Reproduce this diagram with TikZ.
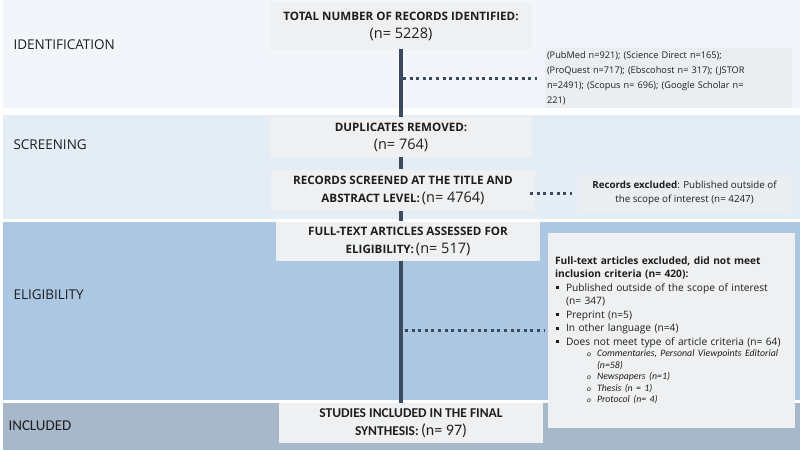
\documentclass[tikz,border=0pt]{standalone}
\usepackage{fontspec}
\setmainfont{Open Sans}
\newfontfamily\calfont{Carlito}
\usetikzlibrary{positioning}
\setlength{\parindent}{0pt}
\definecolor{ink}{HTML}{1E1E1E}
\definecolor{identbg}{HTML}{F2F6FB}
\definecolor{screenbg}{HTML}{E4ECF6}
\definecolor{eligbg}{HTML}{ABC7E2}
\definecolor{inclbg}{HTML}{A7B8CA}
\definecolor{boxfill}{HTML}{EEF0F2}
\definecolor{srcfill}{HTML}{EBEEF1}
\definecolor{flow}{HTML}{3C4A5E}
\newcommand{\stagehd}[1]{{\bfseries\fontsize{11.6}{18}\selectfont #1}}
\newcommand{\stagen}[1]{{\fontsize{14.5}{18}\selectfont #1}}
\newcommand{\sqb}{\makebox[11pt][l]{\hspace{1pt}\rule[2.2pt]{2.8pt}{2.8pt}}}
\newcommand{\cirb}{\hspace*{32pt}\makebox[10pt][l]{{\fontsize{7.5}{8}\selectfont o}}}
\tikzset{
  phase/.style={anchor=west, text=ink, font=\fontsize{13.5}{16}\selectfont},
  stagebox/.style={fill=boxfill, draw=none, align=center, inner sep=0pt, text=ink,
    font=\fontsize{11.6}{18}\selectfont},
  sidebox/.style={fill=srcfill, draw=none, inner sep=0pt, text=ink},
  flowline/.style={draw=flow, line width=4pt},
  dotline/.style={draw=flow, line width=3pt, dash pattern=on 3pt off 3.6pt}
}

\begin{document}
\begin{tikzpicture}[x=1pt, y=-1pt]
  \useasboundingbox (0,0) rectangle (800,450);
  % phase bands
  \fill[white] (0,0) rectangle (800,450);
  \fill[identbg] (3,0) rectangle (800,108);
  \fill[screenbg] (3,115) rectangle (800,219);
  \fill[eligbg] (3,222) rectangle (800,400);
  \fill[inclbg] (3,403) rectangle (800,450);
  \node[phase] (pid) at (10,45) {IDENTIFICATION};
  \node[phase] (pscr) at (10,145) {SCREENING};
  \node[phase] (pel) at (10,295) {ELIGIBILITY};
  \node[phase, font=\calfont\fontsize{15}{17}\selectfont] (pinc) at (5,426) {INCLUDED};

  % main stages
  \node[stagebox, minimum width=262pt, minimum height=46pt] (total) at (401,26)
    {\stagehd{TOTAL NUMBER OF RECORDS IDENTIFIED:}\\ \stagen{(n= 5228)}};
  \node[stagebox, minimum width=262pt, minimum height=40pt] (dup) at (401,137)
    {\stagehd{DUPLICATES REMOVED:}\\ \stagen{(n= 764)}};
  \node[stagebox, minimum width=264pt, minimum height=41pt] (scr) at (403,190)
    {\stagehd{RECORDS SCREENED AT THE TITLE AND}\\ \stagehd{ABSTRACT LEVEL:}\,\stagen{(n= 4764)}};
  \node[stagebox, minimum width=264pt, minimum height=39pt] (full) at (408,241)
    {\stagehd{FULL-TEXT ARTICLES ASSESSED FOR}\\ \stagehd{ELIGIBILITY:}\,\stagen{(n= 517)}};
  \node[stagebox, minimum width=264pt, minimum height=40pt, font=\calfont\fontsize{13.5}{18}\selectfont] (incl) at (411,423)
    {{\bfseries STUDIES INCLUDED IN THE FINAL}\\
     {\bfseries SYNTHESIS:}\,{\fontsize{16}{18}\selectfont(n= 97)}};

  % side boxes
  \node[sidebox, minimum width=247pt, minimum height=60pt, text width=243pt, align=left,
        font=\fontsize{9.2}{15}\selectfont] (src) at (668.5,78)
    {(PubMed n=921); (Science Direct n=165);\\
     (ProQuest n=717); (Ebscohost n= 317); (JSTOR\\
     n=2491); (Scopus n= 696); (Google Scholar n=\\
     221)};
  \node[sidebox, minimum width=213pt, minimum height=39pt, align=center,
        font=\fontsize{9.8}{14}\selectfont] (exscr) at (684.5,193)
    {\textbf{Records excluded}: Published outside of\\ the scope of interest (n= 4247)};
  \node[sidebox, fill=boxfill, minimum height=195pt, text width=233pt, inner xsep=7pt,
        font=\fontsize{10.2}{13.5}\selectfont] (exel) at (671.5,330.5)
    {\textbf{Full-text articles excluded, did not meet}\par
     \textbf{inclusion criteria (n= 420):}\par
     \sqb Published outside of the scope of interest\par
     \hspace*{11pt}(n= 347)\par
     \sqb Preprint (n=5)\par
     \sqb In other language (n=4)\par
     \sqb Does not meet type of article criteria (n= 64)\par
     {\calfont\itshape\fontsize{9.8}{11.5}\selectfont
     \cirb Commentaries, Personal Viewpoints Editorial\par
     \hspace*{42pt}(n=58)\par
     \cirb Newspapers (n=1)\par
     \cirb Thesis (n = 1)\par
     \cirb Protocol (n= 4)\par}};

  % flow
  \draw[flowline] (total.south) -- (dup.north -| total.south);
  \draw[flowline] (dup.south -| total.south) -- (scr.north -| total.south);
  \draw[flowline] (scr.south -| total.south) -- (full.north -| total.south);
  \draw[flowline] (full.south -| total.south) -- (incl.north -| total.south);

  \coordinate (j1) at (total.south |- src.west);
  \coordinate (j3) at (total.south |- exel.west);
  \draw[dotline, shorten <=2pt, shorten >=8pt] (j1) -- (src.west);
  \draw[dotline, shorten <=-5pt, shorten >=6pt] (scr.east |- exscr.west) -- (exscr.west);
  \draw[dotline, shorten <=4pt, shorten >=3pt] (j3) -- (exel.west);
\end{tikzpicture}
\end{document}
